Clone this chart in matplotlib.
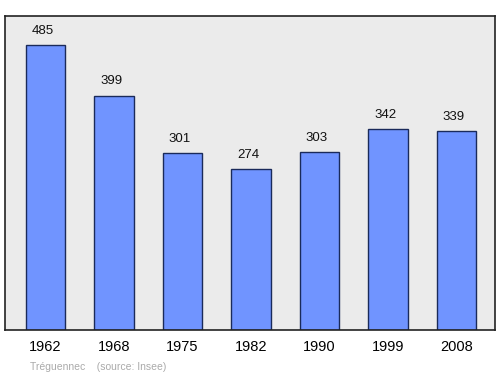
import matplotlib.pyplot as plt

plt.rcParams['font.family'] = ['Liberation Sans', 'DejaVu Sans']

years = ["1962", "1968", "1975", "1982", "1990", "1999", "2008"]
population = [485, 399, 301, 274, 303, 342, 339]

fig = plt.figure(figsize=(5, 3.74), dpi=100)
ax = fig.add_axes([0.01, 0.1176, 0.98, 0.8396])
ax.set_facecolor("#ebebeb")

x = range(len(years))
ax.bar(x, population, width=0.58, color="#7094ff", edgecolor="#1a2a5a", linewidth=1, zorder=2)

# value labels above the bars
for i, v in enumerate(population):
    ax.annotate(str(v), (i, v), xytext=(-2, 6), textcoords="offset points",
                ha="center", va="bottom", fontsize=9.5, color="#111111")

ax.set_xlim(-0.59, 6.56)
ax.set_ylim(0, 535)
ax.set_xticks(list(x))
ax.set_xticklabels(years, fontsize=10.5)
ax.tick_params(axis="x", length=0, pad=7)
ax.set_yticks([])
for s in ax.spines.values():
    s.set_color("#222222")
    s.set_linewidth(1.2)

fig.text(0.06, 0.012, "Tréguennec    (source: Insee)", fontsize=7.5, color="#aaaaaa")

fig.savefig("out.png", dpi=100)
